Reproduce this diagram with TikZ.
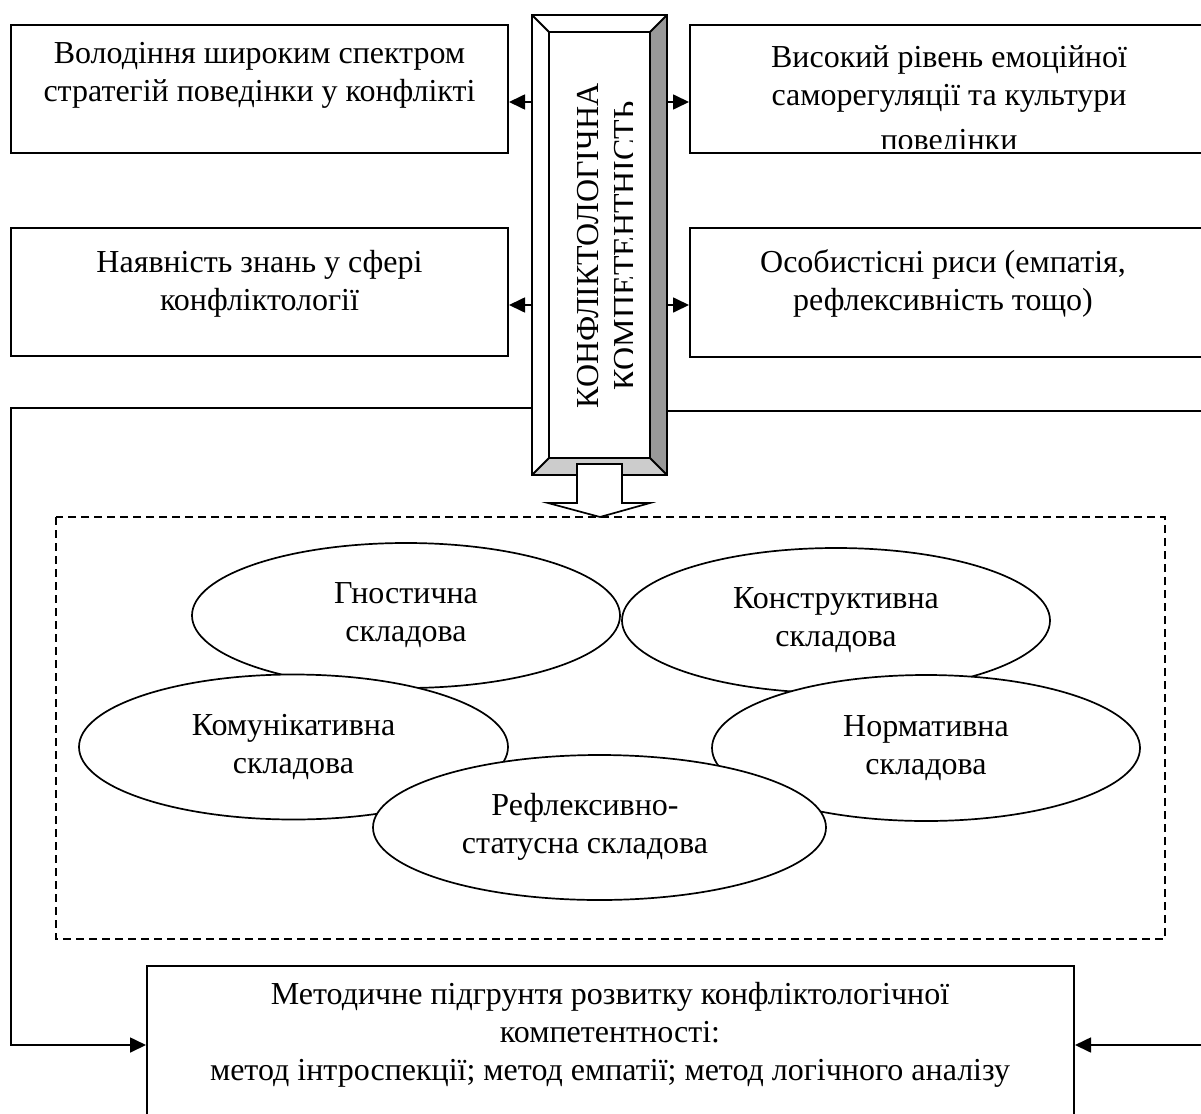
\documentclass[tikz,border=0pt]{standalone}
\usepackage{fontspec}
\setmainfont{Liberation Serif}
\usetikzlibrary{shapes.geometric,arrows.meta}
\definecolor{bevdark}{RGB}{153,153,153}
\definecolor{bevlight}{RGB}{204,204,204}
\begin{document}
\begin{tikzpicture}[x=1pt,y=-1pt,
  every node/.style={font=\fontsize{32}{38}\selectfont},
  box/.style={draw, line width=2pt, inner sep=0pt, fill=white},
  txt/.style={align=center, inner sep=0pt},
  oval/.style={ellipse, draw, fill=white, line width=1.7pt, align=center, inner sep=0pt},
  edge/.style={line width=2pt},
  arr/.style={line width=1.7pt, -{Triangle[length=16pt,width=15pt]}},
  dashbox/.style={line width=1.8pt, dash pattern=on 8pt off 5pt},
]
\useasboundingbox (0,0) rectangle (1201,1113);
\clip (0,0) rectangle (1201,1113);

% boxes
\node[box, minimum width=497pt, minimum height=128pt] (b1) at (259.5,89) {};
\node[box, minimum width=550pt, minimum height=128pt] (b2) at (965,89) {};
\node[box, minimum width=497pt, minimum height=128pt] (b3) at (259.5,292) {};
\node[box, minimum width=550pt, minimum height=129pt] (b4) at (965,292.5) {};
\node[box, minimum width=927pt, minimum height=184pt] (b5) at (610.5,1058) {};

% box texts
\node[txt] (t1) at (259.5,75.5) {Володіння широким спектром\\стратегій поведінки у конфлікті};
\begin{scope}
  \clip (692,27) rectangle (1201,148);
  \node[txt] (t2) at (949,101) {Високий рівень емоційної\\саморегуляції та культури\\[7pt]поведінки};
\end{scope}
\node[txt] (t3) at (259.5,283.5) {Наявність знань у сфері\\конфліктології};
\node[txt] (t4) at (943,283.5) {Особистісні риси (емпатія,\\рефлексивність тощо)};
\node[txt] (t5) at (610,1034.5) {Методичне підгрунтя розвитку конфліктологічної\\компетентності:\\метод інтроспекції; метод емпатії; метод логічного аналізу};

% central bevelled frame
\node[minimum width=135pt, minimum height=460pt, inner sep=0pt] (frame) at (599.5,245) {};
\fill[white] (532,15) rectangle (667,475);
\fill[bevdark] (667,15) -- (667,475) -- (650,458) -- (650,32) -- cycle;
\fill[bevlight] (532,475) -- (667,475) -- (650,458) -- (549,458) -- cycle;
\draw[edge] (532,15) rectangle (667,475);
\draw[edge] (549,32) rectangle (650,458);
\draw[edge] (532,15) -- (549,32) (667,15) -- (650,32) (532,475) -- (549,458) (667,475) -- (650,458);
\begin{scope}
  \clip (551,34) rectangle (632,456);
  \node[rotate=90, anchor=base, inner sep=0pt] (ft1) at (598,246) {КОНФЛІКТОЛОГІЧНА};
  \node[rotate=90, anchor=base, inner sep=0pt] (ft2) at (635,246) {КОМПЕТЕНТНІСТЬ};
\end{scope}

% connectors
\coordinate (ya) at (0,102);
\coordinate (yb) at (0,305);
\coordinate (yl) at (0,408);
\coordinate (yr) at (0,411);
\coordinate (yd) at (0,1045);
\coordinate (xl) at (11,0);
\coordinate (xr) at (1225,0);
\draw[arr] (frame.west |- ya) -- (b1.east |- ya);
\draw[arr] (frame.east |- ya) -- (b2.west |- ya);
\draw[arr] (frame.west |- yb) -- (b3.east |- yb);
\draw[arr] (frame.east |- yb) -- (b4.west |- yb);
\draw[arr] (frame.west |- yl) -- (xl |- yl) -- (xl |- yd) -- (b5.west |- yd);
\draw[arr] (frame.east |- yr) -- (xr |- yr) -- (xr |- yd) -- (b5.east |- yd);

% dashed region
\draw[dashbox] (56,517) rectangle (1165,939);

% ellipses
\node[oval, minimum width=428pt, minimum height=145pt] (e1) at (406,615.5) {Гностична\\складова};
\node[oval, minimum width=428pt, minimum height=145pt] (e2) at (836,620.5) {Конструктивна\\складова};
\node[oval, minimum width=429pt, minimum height=145pt] (e3) at (293.5,747) {Комунікативна\\складова};
\node[oval, minimum width=428pt, minimum height=146pt] (e4) at (926,748) {Нормативна\\складова};
\node[oval, minimum width=453pt, minimum height=145pt] (e5) at (599.5,827.5) {};
\node[txt] (t6) at (585,826.5) {Рефлексивно-\\статусна складова};

% hollow arrow
\draw[line width=1.7pt, fill=white] (577,464) -- (622,464) -- (622,503) -- (650,503) -- (600,517) -- (548,503) -- (577,503) -- cycle;
\end{tikzpicture}
\end{document}
